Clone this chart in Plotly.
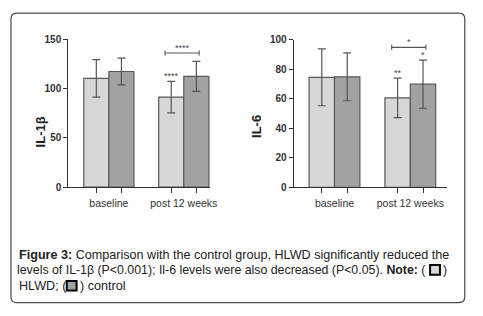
import plotly.graph_objects as go

W, H = 483, 316
OFF = 8  # page body margin in the viewer

categories = ["baseline", "post 12 weeks"]

il1b_hlwd_mean = [110.5, 91.5]
il1b_hlwd_sd = [19.0, 16.0]
il1b_ctrl_mean = [117.5, 112.5]
il1b_ctrl_sd = [13.5, 15.2]

il6_hlwd_mean = [74.7, 60.7]
il6_hlwd_sd = [19.3, 13.4]
il6_ctrl_mean = [75.0, 70.0]
il6_ctrl_sd = [16.2, 16.3]

il1b_ticks = [0, 50, 100, 150]
il6_ticks = [0, 20, 40, 60, 80, 100]

HLWD_COLOR = "#d7d7d7"
CTRL_COLOR = "#a2a2a2"
EDGE = "#585858"
AX = "#333333"
FONT = "Liberation Sans, Arial, sans-serif"


def px(x):
    return (x - OFF) / W


def py(y):
    return 1 - (y - OFF) / H


fig = go.Figure()

panels = [
    ("x", "y", il1b_hlwd_mean, il1b_hlwd_sd, il1b_ctrl_mean, il1b_ctrl_sd),
    ("x2", "y2", il6_hlwd_mean, il6_hlwd_sd, il6_ctrl_mean, il6_ctrl_sd),
]
for xa, ya, hm, hs, cm, cs in panels:
    for name, m, s, col in [("HLWD", hm, hs, HLWD_COLOR), ("control", cm, cs, CTRL_COLOR)]:
        fig.add_trace(go.Bar(
            x=categories, y=m, name=name, xaxis=xa, yaxis=ya,
            marker=dict(color=col, line=dict(color=EDGE, width=1.2)),
            error_y=dict(type="data", array=s, visible=True, color="#555555",
                         thickness=1.2, width=4),
            offsetgroup=name, showlegend=False,
        ))

bar_half = (1 - 0.33) / 4
tick_pos = [-bar_half, bar_half, 1 - bar_half, 1 + bar_half]

common_x = dict(type="category", showline=True, linecolor=AX, linewidth=1.3,
                ticks="outside", ticklen=6, tickcolor="rgba(0,0,0,0)",
                tickfont=dict(family=FONT, size=10.5, color="#333"),
                showgrid=False, zeroline=False, fixedrange=True)
common_y = dict(showline=True, linecolor=AX, linewidth=1.3, ticks="outside",
                ticklen=4, tickcolor=AX, tickwidth=1.3,
                tickfont=dict(family=FONT, size=10, color="#333", weight="bold"),
                showgrid=False, zeroline=False, fixedrange=True)

fig.update_layout(
    width=W, height=H, autosize=False,
    margin=dict(l=0, r=0, t=0, b=0),
    paper_bgcolor="white", plot_bgcolor="rgba(0,0,0,0)",
    barmode="group", bargap=0.33, bargroupgap=0,
    xaxis=dict(domain=[px(69.3), px(213)], range=[-0.54, 1.35], anchor="y", **common_x),
    yaxis=dict(domain=[py(188), py(34.5)], range=[0, 150], tickvals=il1b_ticks,
               anchor="x", **common_y),
    xaxis2=dict(domain=[px(298), px(453)], range=[-0.537, 1.478], anchor="y2", **common_x),
    yaxis2=dict(domain=[py(188.3), py(35)], range=[0, 100], tickvals=il6_ticks,
                anchor="x2", **common_y),
    xaxis3=dict(overlaying="x", anchor="y", range=[-0.54, 1.35], tickvals=tick_pos,
                ticks="outside", ticklen=5, tickcolor=AX, tickwidth=1.3,
                showticklabels=False, showline=False, showgrid=False, zeroline=False),
    xaxis4=dict(overlaying="x2", anchor="y2", range=[-0.537, 1.478], tickvals=tick_pos,
                ticks="outside", ticklen=5, tickcolor=AX, tickwidth=1.3,
                showticklabels=False, showline=False, showgrid=False, zeroline=False),
)
# invisible traces to activate the overlay tick axes
fig.add_trace(go.Scatter(x=[0], y=[0], xaxis="x3", yaxis="y", mode="markers",
                         marker=dict(opacity=0), showlegend=False, hoverinfo="skip"))
fig.add_trace(go.Scatter(x=[0], y=[0], xaxis="x4", yaxis="y2", mode="markers",
                         marker=dict(opacity=0), showlegend=False, hoverinfo="skip"))

ann = []
# y-axis titles
ann.append(dict(text="<b>IL-1β</b>", x=px(31.7), y=py(112), xref="paper", yref="paper",
                textangle=-90, showarrow=False, font=dict(family=FONT, size=13, color="#222")))
ann.append(dict(text="<b>IL-6</b>", x=px(260), y=py(111), xref="paper", yref="paper",
                textangle=-90, showarrow=False, font=dict(family=FONT, size=13, color="#222")))

star_font = dict(family=FONT, size=9, color="#444")
BR = "#555555"

# left panel significance
l_br = 136.3
fig.add_shape(type="line", xref="x", yref="y", x0=0.75, x1=1.205, y0=l_br, y1=l_br,
              line=dict(color=BR, width=1.1))
for xx in (0.75, 1.205):
    fig.add_shape(type="line", xref="x", yref="y", x0=xx, x1=xx, y0=l_br - 2.5, y1=l_br + 2.5,
                  line=dict(color=BR, width=1.1))
ann.append(dict(text="****", x=0.977, y=l_br, xref="x", yref="y", yanchor="bottom",
                yshift=-2, showarrow=False, font=star_font))
ann.append(dict(text="****", x=1 - bar_half, y=il1b_hlwd_mean[1] + il1b_hlwd_sd[1],
                xref="x", yref="y", yanchor="bottom", yshift=-2, showarrow=False, font=star_font))

# right panel significance
r_br = 95.0
fig.add_shape(type="line", xref="x2", yref="y2", x0=0.754, x1=1.205, y0=r_br, y1=r_br,
              line=dict(color=BR, width=1.1))
for xx in (0.754, 1.205):
    fig.add_shape(type="line", xref="x2", yref="y2", x0=xx, x1=xx, y0=r_br - 1.7, y1=r_br + 1.7,
                  line=dict(color=BR, width=1.1))
ann.append(dict(text="*", x=0.98, y=r_br, xref="x2", yref="y2", yanchor="bottom",
                yshift=-2, showarrow=False, font=star_font))
ann.append(dict(text="**", x=1 - bar_half, y=il6_hlwd_mean[1] + il6_hlwd_sd[1],
                xref="x2", yref="y2", yanchor="bottom", yshift=-2, showarrow=False, font=star_font))
ann.append(dict(text="*", x=1 + bar_half, y=il6_ctrl_mean[1] + il6_ctrl_sd[1],
                xref="x2", yref="y2", yanchor="bottom", yshift=-2, showarrow=False, font=star_font))

# caption
cap_font = dict(family=FONT, size=12.6, color="#222")
cap_font2 = dict(family=FONT, size=12.35, color="#222")
L1, L2, L3 = 258.5, 274, 290.5
cap_parts = [
    ("<b>Figure 3:</b> Comparison with the control group, HLWD significantly reduced the",
     17, L1, "left", cap_font),
    ("levels of IL-1β (P&lt;0.001); Il-6 levels were also decreased (P&lt;0.05). <b>Note:</b> (",
     434, L2, "right", cap_font2),
    (")", 447.5, L2, "left", cap_font2),
    ("HLWD; (", 17, L3, "left", cap_font),
    (") control", 79, L3, "left", cap_font),
]
for t, xx, yy, anc, f in cap_parts:
    ann.append(dict(text=t, x=px(xx), y=py(yy), xref="paper", yref="paper", xanchor=anc,
                    yanchor="middle", showarrow=False, font=f))
fig.update_layout(annotations=ann)

# legend squares in caption
fig.add_shape(type="rect", xref="paper", yref="paper", x0=px(436.3), x1=px(446.3),
              y0=py(L2 + 5), y1=py(L2 - 5), fillcolor=HLWD_COLOR, line=dict(color="black", width=2))
fig.add_shape(type="rect", xref="paper", yref="paper", x0=px(67.6), x1=px(77.6),
              y0=py(L3 + 5), y1=py(L3 - 5), fillcolor=CTRL_COLOR, line=dict(color="black", width=2))

# rounded outer frame
x0, y0, x1, y1, r = 11, 7, 471.5, 308, 6
path = (f"M {px(x0 + r)},{py(y0)} L {px(x1 - r)},{py(y0)} "
        f"Q {px(x1)},{py(y0)} {px(x1)},{py(y0 + r)} L {px(x1)},{py(y1 - r)} "
        f"Q {px(x1)},{py(y1)} {px(x1 - r)},{py(y1)} L {px(x0 + r)},{py(y1)} "
        f"Q {px(x0)},{py(y1)} {px(x0)},{py(y1 - r)} L {px(x0)},{py(y0 + r)} "
        f"Q {px(x0)},{py(y0)} {px(x0 + r)},{py(y0)} Z")
fig.add_shape(type="path", xref="paper", yref="paper", path=path,
              line=dict(color="#4a4a4a", width=1.2), layer="below")

fig.write_html("out.html")
